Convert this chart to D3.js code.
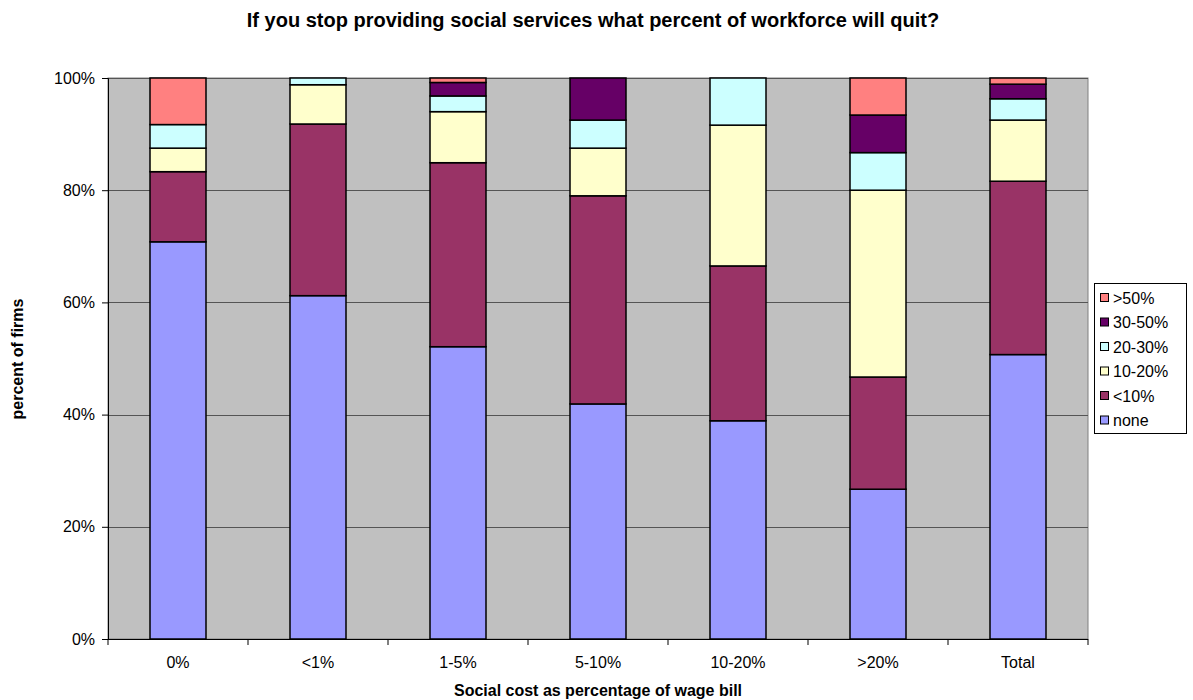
<!DOCTYPE html>
<html><head><meta charset="utf-8">
<script src="https://cdn.jsdelivr.net/npm/d3@7"></script>
<style>body{margin:0;background:#fff;}svg{display:block;font-family:"Liberation Sans",Arial,sans-serif;}</style>
</head><body>
<svg id="c" width="1193" height="700"></svg>
<script>
const categories = ["0%", "<1%", "1-5%", "5-10%", "10-20%", ">20%", "Total"];
const seriesNames = ["none", "<10%", "10-20%", "20-30%", "30-50%", ">50%"];
const none      = [70.8, 61.2, 52.1, 41.9, 38.9, 26.7, 50.7];
const lt10      = [12.5, 30.6, 32.8, 37.1, 27.6, 20.0, 30.9];
const p10_20    = [4.2, 7.0, 9.1, 8.5, 25.1, 33.3, 10.9];
const p20_30    = [4.2, 1.2, 2.8, 5.0, 8.4, 6.7, 3.8];
const p30_50    = [0, 0, 2.4, 7.5, 0, 6.7, 2.6];
const gt50      = [8.3, 0, 0.8, 0, 0, 6.6, 1.1];
const yTicks = [0, 20, 40, 60, 80, 100];
const colors = ["#9999FF", "#993366", "#FFFFCC", "#CCFFFF", "#660066", "#FF8080"];

const seriesValues = [none, lt10, p10_20, p20_30, p30_50, gt50];
const rows = categories.map((c, i) => {
  const r = {cat: c};
  seriesNames.forEach((s, j) => r[s] = seriesValues[j][i]);
  return r;
});

const svg = d3.select("#c");
const L = 108, R = 1088, T = 78, B = 639;
const x = d3.scaleBand().domain(categories).range([L, R]).paddingInner(0.6).paddingOuter(0.3);
const xc = d3.scaleBand().domain(categories).range([L, R]);
const y = d3.scaleLinear().domain([0, 100]).range([B, T]);

svg.append("rect").attr("x", L).attr("y", T).attr("width", R - L).attr("height", B - T)
  .attr("fill", "#C0C0C0").attr("stroke", "#808080").attr("stroke-width", 1);

// gridlines
svg.append("g").selectAll("line").data(yTicks.filter(d => d > 0)).join("line")
  .attr("x1", L).attr("x2", R).attr("y1", d => Math.round(y(d)) + 0.5).attr("y2", d => Math.round(y(d)) + 0.5)
  .attr("stroke", "#555").attr("stroke-width", 1);

const stack = d3.stack().keys(seriesNames)(rows);
const g = svg.append("g");
stack.forEach((layer, j) => {
  g.append("g").selectAll("rect").data(layer.filter(d => d[1] - d[0] > 0)).join("rect")
    .attr("x", d => x(d.data.cat))
    .attr("width", x.bandwidth())
    .attr("y", d => y(d[1]))
    .attr("height", d => y(d[0]) - y(d[1]))
    .attr("fill", colors[j]).attr("stroke", "#000").attr("stroke-width", 1.5);
});

// y axis
const ya = svg.append("g").attr("transform", `translate(${L},0)`)
  .call(d3.axisLeft(y).tickValues(yTicks).tickFormat(d => d + "%").tickSize(6).tickPadding(7));
ya.select(".domain").attr("stroke", "#000");
ya.selectAll(".tick line").attr("stroke", "#000");
ya.selectAll("text").attr("font-size", 16).attr("font-family", "Liberation Sans, Arial").attr("fill", "#000");

// x axis
svg.append("line").attr("x1", L).attr("x2", R).attr("y1", B + 0.5).attr("y2", B + 0.5).attr("stroke", "#000");
const bounds = categories.map(c => xc(c)).concat([R]);
svg.append("g").selectAll("line").data(bounds).join("line")
  .attr("x1", d => d).attr("x2", d => d).attr("y1", B).attr("y2", B + 6).attr("stroke", "#000");
svg.append("g").selectAll("text").data(categories).join("text")
  .attr("x", d => xc(d) + xc.bandwidth() / 2).attr("y", 668)
  .attr("text-anchor", "middle").attr("font-size", 16).text(d => d);

// titles
svg.append("text").attr("x", 593).attr("y", 27).attr("text-anchor", "middle")
  .attr("font-size", 20).attr("font-weight", "bold")
  .text("If you stop providing social services what percent of workforce will quit?");
svg.append("text").attr("x", (L + R) / 2).attr("y", 696).attr("text-anchor", "middle")
  .attr("font-size", 16).attr("font-weight", "bold").text("Social cost as percentage of wage bill");
svg.append("text").attr("transform", `translate(23,359) rotate(-90)`).attr("text-anchor", "middle")
  .attr("font-size", 16).attr("font-weight", "bold").text("percent of firms");

// legend
const lg = svg.append("g");
lg.append("rect").attr("x", 1094.5).attr("y", 283.5).attr("width", 92).attr("height", 150)
  .attr("fill", "#fff").attr("stroke", "#000");
const legOrder = seriesNames.map((s, j) => ({s, c: colors[j]})).reverse();
const li = lg.selectAll("g.it").data(legOrder).join("g").attr("class", "it")
  .attr("transform", (d, i) => `translate(1100,${298 + i * 24.5})`);
li.append("rect").attr("x", 0.5).attr("y", -4.5).attr("width", 8).attr("height", 8)
  .attr("fill", d => d.c).attr("stroke", "#000").attr("stroke-width", 1);
li.append("text").attr("x", 13).attr("y", 5.5).attr("font-size", 16).text(d => d.s);
</script>
</body></html>
